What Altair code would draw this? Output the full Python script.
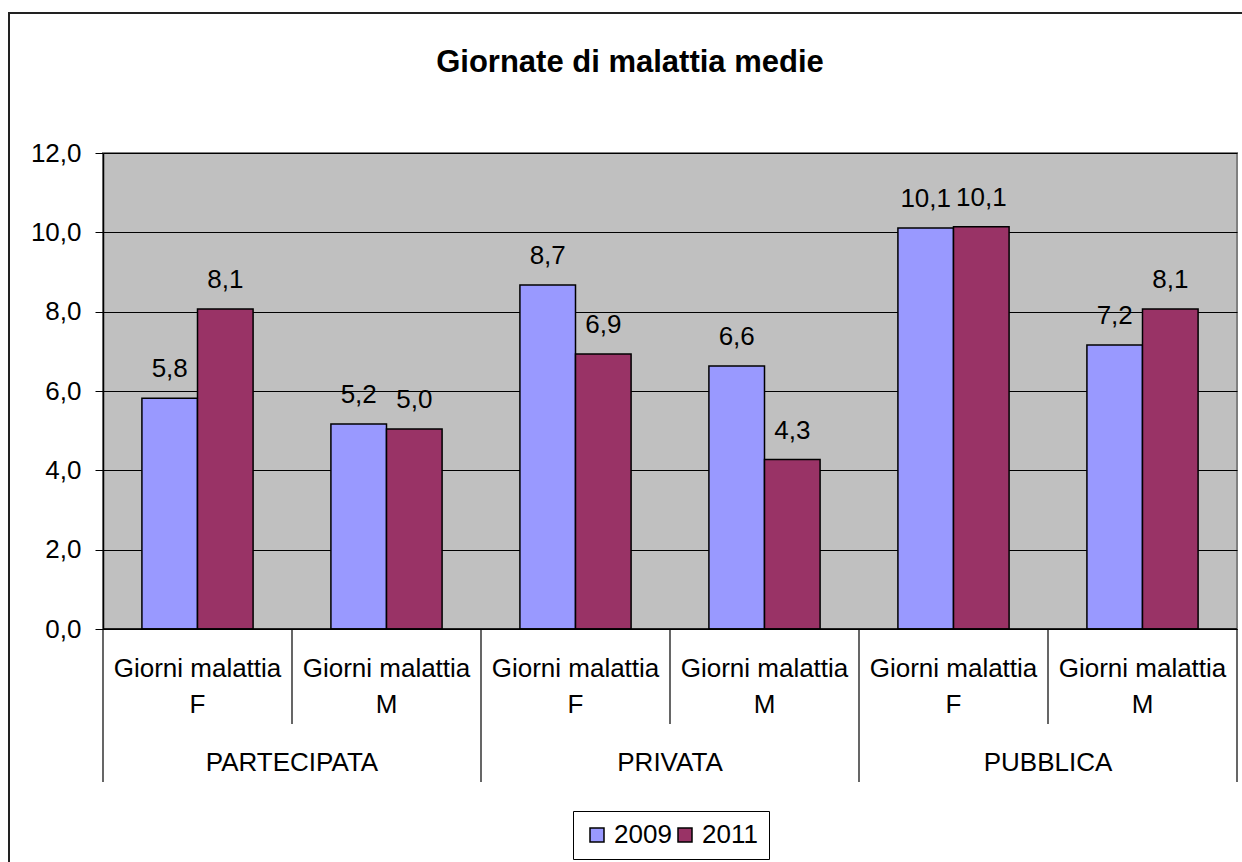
import altair as alt
import pandas as pd

# ---- data ----
groups = ["PARTECIPATA", "PARTECIPATA", "PRIVATA", "PRIVATA", "PUBBLICA", "PUBBLICA"]
sexes = ["F", "M", "F", "M", "F", "M"]
sub_label = "Giorni malattia"
years = ["2009", "2011"]
v2009 = [5.82, 5.17, 8.67, 6.63, 10.11, 7.16]
v2011 = [8.07, 5.04, 6.93, 4.27, 10.14, 8.07]
y_ticks = [0, 2, 4, 6, 8, 10, 12]

cats = [g + " " + s for g, s in zip(groups, sexes)]

rows = []
for c, a, b in zip(cats, v2009, v2011):
    rows.append({"cat": c, "year": "2009", "value": a})
    rows.append({"cat": c, "year": "2011", "value": b})
df = pd.DataFrame(rows)

cat_df = pd.DataFrame({"cat": cats, "sub": [sub_label + "\n" + s for s in sexes],
                       "sex": sexes, "group": groups})
first_df = cat_df[cat_df["sex"] == "F"]
second_df = cat_df[cat_df["sex"] == "M"]
last_df = cat_df.tail(1)

W, H = 1134, 476
FONT = "Liberation Sans"
FS = 26

def xenc(bp=None):
    kw = dict(sort=cats, scale=alt.Scale(paddingInner=0, paddingOuter=0), axis=None)
    if bp is not None:
        kw["bandPosition"] = bp
    return alt.X("cat:N", **kw)

xoff = alt.XOffset("year:N", sort=years, scale=alt.Scale(paddingInner=0, paddingOuter=0.7))

yenc = alt.Y("value:Q", scale=alt.Scale(domain=[0, 12], nice=False),
             axis=alt.Axis(values=y_ticks, title=None, grid=True, gridColor="#000000",
                           gridWidth=1, domainColor="#000000", domainWidth=1.5,
                           tickColor="#000000", tickSize=8, labelFontSize=FS,
                           labelFont=FONT, labelColor="#000000", labelPadding=14,
                           labelExpr="replace(format(datum.value, '.1f'), '.', ',')"))

color = alt.Color("year:N", sort=years,
                  scale=alt.Scale(domain=years, range=["#9999FF", "#993366"]),
                  legend=alt.Legend(title=None, orient="none", legendX=470, legendY=658,
                                    direction="horizontal", strokeColor="#000000",
                                    padding=11, symbolType="square", symbolSize=196,
                                    symbolStrokeColor="#000000", symbolStrokeWidth=1.5,
                                    symbolOpacity=1, labelFontSize=FS, labelFont=FONT,
                                    labelColor="#000000", columnPadding=0,
                                    labelOffset=4, fillColor="#FFFFFF"))

border = alt.Chart(pd.DataFrame({"a": [0]})).mark_rect(
    fill="transparent", stroke="#222222", strokeWidth=2
).encode(x=alt.value(-94), x2=alt.value(1160), y=alt.value(-140), y2=alt.value(730))

title = alt.Chart(pd.DataFrame({"t": ["Giornate di malattia medie"]})).mark_text(
    font=FONT, fontSize=31, fontWeight="bold", color="#000000", baseline="alphabetic"
).encode(x=alt.value(527), y=alt.value(-81), text="t:N")

bars = alt.Chart(df).mark_bar(stroke="#000000", strokeWidth=1.5).encode(
    x=xenc(), xOffset=xoff, y=yenc, color=color
)

labels = alt.Chart(df).transform_calculate(
    lab="replace(format(datum.value, '.1f'), '.', ',')"
).mark_text(font=FONT, fontSize=FS, color="#000000", baseline="alphabetic", dy=-21).encode(
    x=xenc(), xOffset=xoff, y="value:Q", text="lab:N"
)

sub_text = alt.Chart(cat_df).mark_text(
    font=FONT, fontSize=FS, color="#000000", baseline="alphabetic",
    lineBreak="\n", lineHeight=36
).encode(x=xenc(), y=alt.value(H + 48), text="sub:N")

group_text = alt.Chart(first_df).mark_text(
    font=FONT, fontSize=FS, color="#000000", baseline="alphabetic"
).encode(x=xenc(1), y=alt.value(H + 142), text="group:N")

short_sep = alt.Chart(second_df).mark_rule(color="#000000", strokeWidth=1.2).encode(
    x=xenc(0), y=alt.value(H), y2=alt.value(H + 95)
)
long_sep = alt.Chart(first_df).mark_rule(color="#000000", strokeWidth=1.2).encode(
    x=xenc(0), y=alt.value(H), y2=alt.value(H + 153)
)
end_sep = alt.Chart(last_df).mark_rule(color="#000000", strokeWidth=1.2).encode(
    x=xenc(1), y=alt.value(H), y2=alt.value(H + 153)
)
base_line = alt.Chart(pd.DataFrame({"a": [0]})).mark_rule(color="#000000", strokeWidth=1.5).encode(
    x=alt.value(0), x2=alt.value(W), y=alt.value(H)
)

chart = alt.layer(
    border, title, bars, labels, sub_text, group_text, short_sep, long_sep, end_sep, base_line
).properties(
    width=W, height=H,
    autosize=alt.AutoSizeParams(type="none"),
    padding={"left": 103, "top": 153, "right": 5, "bottom": 233},
    background="#FFFFFF"
).configure_view(
    fill="#C0C0C0", stroke="#808080", strokeWidth=2
)

chart.save("out.html", embed_options={"renderer": "svg", "actions": False})
